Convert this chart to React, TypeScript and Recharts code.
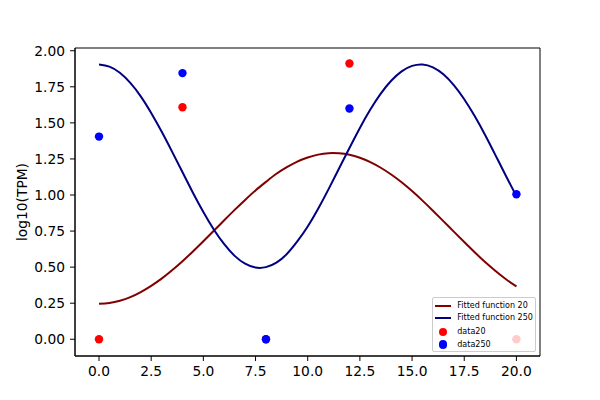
import { ComposedChart, Line, Scatter, XAxis, YAxis, ReferenceArea } from "recharts"

// fitted curves, every half step
const fitX = [0, 0.5, 1, 1.5, 2, 2.5, 3, 3.5, 4, 4.5, 5, 5.5, 6, 6.5, 7, 7.5, 8, 8.5, 9, 9.5, 10, 10.5, 11, 11.5, 12, 12.5, 13, 13.5, 14, 14.5, 15, 15.5, 16, 16.5, 17, 17.5, 18, 18.5, 19, 19.5, 20]
const fit20 = [0.247, 0.252, 0.267, 0.292, 0.327, 0.37, 0.42, 0.478, 0.541, 0.609, 0.68, 0.752, 0.825, 0.897, 0.966, 1.032, 1.091, 1.147, 1.193, 1.232, 1.26, 1.28, 1.29, 1.289, 1.279, 1.258, 1.228, 1.189, 1.142, 1.088, 1.027, 0.961, 0.891, 0.819, 0.746, 0.674, 0.603, 0.535, 0.473, 0.416, 0.366]
const fit250 = [1.905, 1.89, 1.847, 1.777, 1.684, 1.569, 1.44, 1.301, 1.158, 1.016, 0.882, 0.761, 0.659, 0.578, 0.524, 0.497, 0.5, 0.531, 0.591, 0.678, 0.782, 0.905, 1.041, 1.184, 1.326, 1.465, 1.592, 1.703, 1.792, 1.857, 1.895, 1.905, 1.885, 1.837, 1.762, 1.664, 1.547, 1.416, 1.275, 1.132, 0.991]

// measured points
const dataX = [0, 4, 8, 12, 20]
const data20 = [0, 1.608, 0, 1.912, 0]
const data250 = [1.405, 1.845, 0, 1.6, 1.005]

const xTicks = [0, 2.5, 5, 7.5, 10, 12.5, 15, 17.5, 20]
const yTicks = [0, 0.25, 0.5, 0.75, 1, 1.25, 1.5, 1.75, 2]

const X_DOMAIN: [number, number] = [-1.15, 21.13]
const Y_DOMAIN: [number, number] = [-0.116, 2.019]

const curveRows = fitX.map((x, i) => ({ x, fit20: fit20[i], fit250: fit250[i] }))
const points20 = dataX.map((x, i) => ({ x, y: data20[i] }))
const points250 = dataX.map((x, i) => ({ x, y: data250[i] }))

const FONT = "DejaVu Sans, sans-serif"
const tick = { fill: "#000", fontSize: 13.8, fontFamily: FONT }

const dot = (color: string) => (props: any) => (
  <circle cx={props.cx} cy={props.cy} r={4.2} fill={color} />
)

const legendItems = [
  { label: "Fitted function 20", color: "#800000", kind: "line", top: 7.4 },
  { label: "Fitted function 250", color: "#000080", kind: "line", top: 20 },
  { label: "data20", color: "#ff0000", kind: "dot", top: 33.6 },
  { label: "data250", color: "#0000ff", kind: "dot", top: 46.4 },
]

export default function App() {
  return (
    <div style={{ position: "absolute", left: 0, top: 0, width: 600, height: 400, background: "#fff" }}>
      <ComposedChart width={600} height={400} margin={{ top: 48, right: 60, bottom: 0, left: 0 }}>
        <XAxis
          dataKey="x"
          type="number"
          domain={X_DOMAIN}
          ticks={xTicks}
          tickFormatter={(v) => v.toFixed(1)}
          allowDataOverflow
          height={44}
          tick={tick}
          tickSize={5}
          tickMargin={5}
          stroke="#000"
        />
        <YAxis
          type="number"
          domain={Y_DOMAIN}
          ticks={yTicks}
          tickFormatter={(v) => v.toFixed(2)}
          allowDataOverflow
          width={75}
          tick={tick}
          tickSize={5}
          tickMargin={5}
          stroke="#000"
          label={{
            value: "log10(TPM)",
            content: () => (
              <text x={22} y={202} transform="rotate(-90 22 202)" textAnchor="middle" dominantBaseline="central" fontSize={13.8} fontFamily={FONT} fill="#000">
                log10(TPM)
              </text>
            ),
          }}
        />
        <ReferenceArea x1={X_DOMAIN[0]} x2={X_DOMAIN[1]} y1={Y_DOMAIN[0]} y2={Y_DOMAIN[1]} stroke="#000" strokeWidth={1} fill="none" fillOpacity={0} />
        <Line data={curveRows} dataKey="fit20" type="natural" stroke="#800000" strokeWidth={2} dot={false} isAnimationActive={false} />
        <Line data={curveRows} dataKey="fit250" type="natural" stroke="#000080" strokeWidth={2} dot={false} isAnimationActive={false} />
        <Scatter data={points20} dataKey="y" fill="#ff0000" shape={dot("#ff0000")} isAnimationActive={false} />
        <Scatter data={points250} dataKey="y" fill="#0000ff" shape={dot("#0000ff")} isAnimationActive={false} />
      </ComposedChart>
      <div
        style={{
          position: "absolute",
          left: 431.7,
          top: 297.3,
          width: 104.3,
          height: 54.7,
          boxSizing: "border-box",
          border: "1px solid #cccccc",
          borderRadius: 2,
          background: "rgba(255,255,255,0.8)",
          fontFamily: FONT,
          fontSize: 8,
          color: "#000",
        }}
      >
        {legendItems.map((item) => (
          <div key={item.label} style={{ position: "absolute", left: 0, top: item.top - 6, height: 12, width: "100%" }}>
            {item.kind === "line" ? (
              <span style={{ position: "absolute", left: 2.3, top: 5, width: 16, height: 2, background: item.color }} />
            ) : (
              <span style={{ position: "absolute", left: 6.1, top: 1.8, width: 8.4, height: 8.4, borderRadius: "50%", background: item.color }} />
            )}
            <span style={{ position: "absolute", left: 24.6, top: 0, lineHeight: "12px", whiteSpace: "nowrap" }}>{item.label}</span>
          </div>
        ))}
      </div>
    </div>
  )
}
